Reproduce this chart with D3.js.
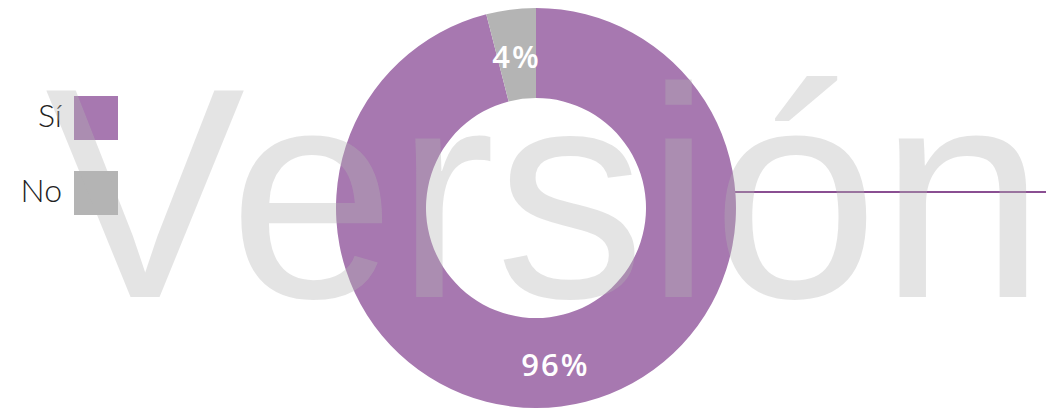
<!DOCTYPE html>
<html><head><meta charset="utf-8">
<script src="https://cdn.jsdelivr.net/npm/d3@7"></script>
<style>html,body{margin:0;padding:0;background:#fff;overflow:hidden}</style>
</head><body>
<script>
const categories = ["Sí", "No"];
const values = [96, 4];
const labels = ["96%", "4%"];
const colors = ["#a778b0", "#b4b4b4"];
const watermark = "Versión";

const W = 1046, H = 410;
const svg = d3.select("body").append("svg").attr("width", W).attr("height", H);

const cx = 536, cy = 208, rOuter = 200, rInner = 110;
const pie = d3.pie().sort(null).value(d => d.v);
const data = categories.map((c, i) => ({c, v: values[i], label: labels[i], color: colors[i]}));
const arcs = pie(data);
const arc = d3.arc().innerRadius(rInner).outerRadius(rOuter);
const labelArc = d3.arc().innerRadius(155).outerRadius(155);

// connector line
svg.append("line").attr("x1", 735).attr("x2", W).attr("y1", 192).attr("y2", 192)
  .attr("stroke", "#8a4f92").attr("stroke-width", 2);

const g = svg.append("g").attr("transform", `translate(${cx},${cy})`);
g.selectAll("path").data(arcs).enter().append("path")
  .attr("d", arc).attr("fill", d => d.data.color);
g.selectAll("text").data(arcs).enter().append("text")
  .attr("transform", d => `translate(${labelArc.centroid(d)})`)
  .attr("text-anchor", "middle").attr("dy", 14)
  .attr("fill", "#fff")
  .style("font-family", "'Open Sans', Lato, sans-serif")
  .style("font-weight", 600).style("font-size", "31px").style("letter-spacing", "2px")
  .text(d => d.data.label);

// legend
const leg = svg.append("g");
const legY = d3.scalePoint().domain(categories).range([96, 171]);
categories.forEach((c, i) => {
  leg.append("rect").attr("x", 74).attr("y", legY(c)).attr("width", 44).attr("height", 44)
    .attr("fill", colors[i]);
  leg.append("text").attr("x", 62).attr("y", legY(c) + 30.5).attr("text-anchor", "end")
    .attr("fill", "#222")
    .style("font-family", "Lato, 'Open Sans', sans-serif").style("font-weight", 300)
    .style("font-size", "32px").text(c);
});

// watermark
svg.append("text").attr("x", 45).attr("y", 297)
  .attr("fill", "#b4b4b4").attr("fill-opacity", 0.36)
  .style("font-family", "'Liberation Sans', Arial, sans-serif")
  .style("font-size", "300px")
  .text(watermark);
</script>
</body></html>
